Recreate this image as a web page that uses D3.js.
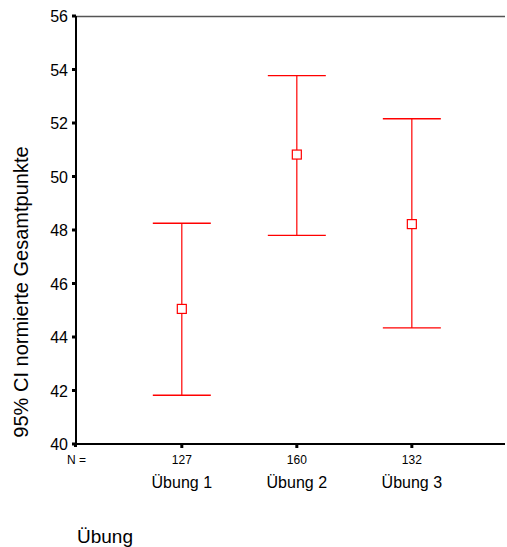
<!DOCTYPE html>
<html>
<head>
<meta charset="utf-8">
<script src="https://cdn.jsdelivr.net/npm/d3@7"></script>
<style>
  body { margin: 0; background: #fff; }
  svg text { font-family: Arial, "Liberation Sans", sans-serif; fill: #000; }
</style>
</head>
<body>
<svg id="chart" width="507" height="547"></svg>
<script>
// values
const categories = ["Übung 1", "Übung 2", "Übung 3"]
const nCounts = [127, 160, 132]
const means = [45.05, 50.82, 48.22]
const lower = [41.82, 47.80, 44.34]
const upper = [48.25, 53.77, 52.16]
const yTicks = [40, 42, 44, 46, 48, 50, 52, 54, 56]

const svg = d3.select('#chart')
const plotLeft = 76, plotRight = 505, plotTop = 16, plotBottom = 444

const y = d3.scaleLinear().domain([40, 56]).range([plotBottom, plotTop])
// category positions: index 0..2, axis starts a bit before first one
const x = d3.scaleLinear().domain([-0.92, 2.81]).range([plotLeft, plotRight])

const red = '#ff0000'

// top frame line (grey)
svg.append('line')
	.attr('x1', plotLeft).attr('x2', plotRight)
	.attr('y1', plotTop + 0.5).attr('y2', plotTop + 0.5)
	.attr('stroke', '#555').attr('stroke-width', 1.5)

// y axis
const yAxis = svg.append('g')
yAxis.append('line')
	.attr('x1', plotLeft).attr('x2', plotLeft)
	.attr('y1', plotTop).attr('y2', plotBottom + 1)
	.attr('stroke', '#000').attr('stroke-width', 2)
yAxis.selectAll('rect.tick').data(yTicks).enter().append('rect')
	.attr('x', plotLeft - 4).attr('y', d => y(d) - 1.5)
	.attr('width', 4).attr('height', 3)
	.attr('fill', '#000')
yAxis.selectAll('text').data(yTicks).enter().append('text')
	.attr('x', plotLeft - 8).attr('y', d => y(d) + 6)
	.attr('text-anchor', 'end')
	.attr('font-size', 16)
	.text(d => d)

// x axis
svg.append('line')
	.attr('x1', plotLeft).attr('x2', plotRight)
	.attr('y1', plotBottom).attr('y2', plotBottom)
	.attr('stroke', '#000').attr('stroke-width', 2)
svg.selectAll('rect.xtick').data(categories).enter().append('rect')
	.attr('x', (d, i) => x(i) - 1.5).attr('y', plotBottom)
	.attr('width', 3).attr('height', 4)
	.attr('fill', '#000')
svg.append('rect')
	.attr('x', plotLeft - 2).attr('y', plotBottom)
	.attr('width', 3).attr('height', 3)
	.attr('fill', '#000')

svg.append('text')
	.attr('x', 67).attr('y', 464)
	.attr('font-size', 12)
	.text('N =')
svg.selectAll('text.n').data(nCounts).enter().append('text')
	.attr('x', (d, i) => x(i)).attr('y', 464)
	.attr('text-anchor', 'middle')
	.attr('font-size', 12)
	.text(d => d)
svg.selectAll('text.cat').data(categories).enter().append('text')
	.attr('x', (d, i) => x(i)).attr('y', 488)
	.attr('text-anchor', 'middle')
	.attr('font-size', 16)
	.text(d => d)

// axis titles
svg.append('text')
	.attr('x', 77).attr('y', 543)
	.attr('font-size', 19)
	.text('Übung')
svg.append('text')
	.attr('transform', 'translate(28,292) rotate(-90)')
	.attr('text-anchor', 'middle')
	.attr('font-size', 20)
	.text('95% CI normierte Gesamtpunkte')

// error bars
const capW = 29
const bars = svg.selectAll('g.bar').data(categories).enter().append('g')
bars.append('line')
	.attr('x1', (d, i) => x(i)).attr('x2', (d, i) => x(i))
	.attr('y1', (d, i) => y(upper[i])).attr('y2', (d, i) => y(lower[i]))
	.attr('stroke', red).attr('stroke-width', 1.2)
bars.append('line')
	.attr('x1', (d, i) => x(i) - capW).attr('x2', (d, i) => x(i) + capW)
	.attr('y1', (d, i) => y(upper[i])).attr('y2', (d, i) => y(upper[i]))
	.attr('stroke', red).attr('stroke-width', 1.4)
bars.append('line')
	.attr('x1', (d, i) => x(i) - capW).attr('x2', (d, i) => x(i) + capW)
	.attr('y1', (d, i) => y(lower[i])).attr('y2', (d, i) => y(lower[i]))
	.attr('stroke', red).attr('stroke-width', 1.4)
bars.append('rect')
	.attr('x', (d, i) => x(i) - 4.5).attr('y', (d, i) => y(means[i]) - 4.5)
	.attr('width', 9).attr('height', 9)
	.attr('fill', '#fff')
	.attr('stroke', red).attr('stroke-width', 1.2)
</script>
</body>
</html>
